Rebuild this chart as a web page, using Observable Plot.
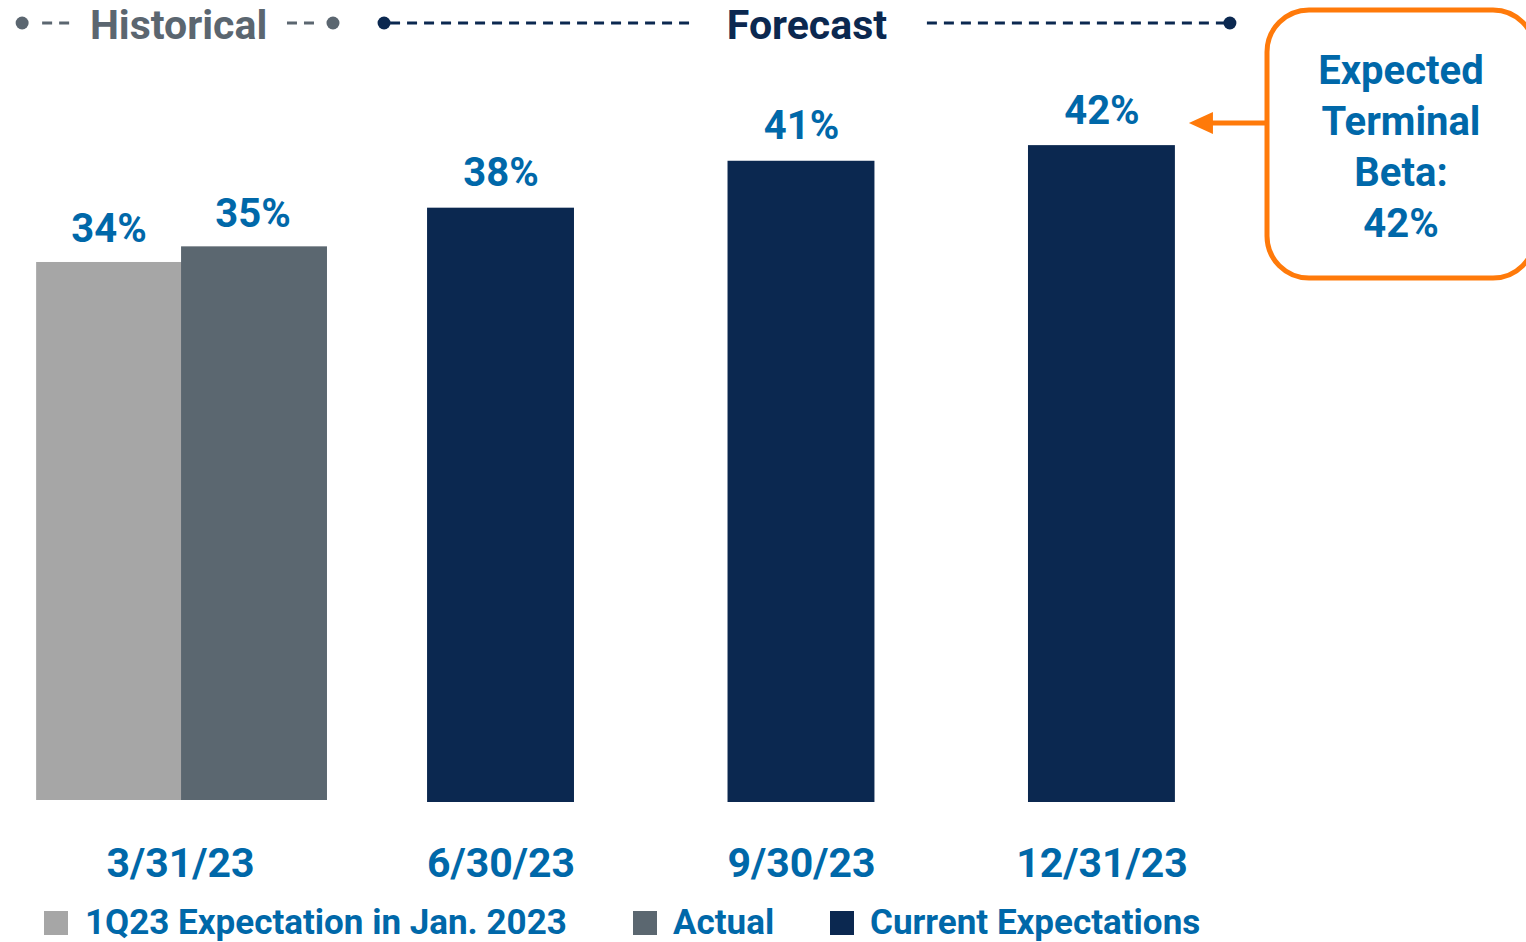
<!DOCTYPE html>
<html>
<head>
<meta charset="utf-8">
<script src="https://cdn.jsdelivr.net/npm/d3@7"></script>
<script src="https://cdn.jsdelivr.net/npm/@observablehq/plot@0.6"></script>
<style>
  html, body { margin: 0; padding: 0; background: #fff; }
  #chart { position: relative; width: 1526px; height: 942px; overflow: hidden; }
  svg { font-family: Roboto, "DejaVu Sans", sans-serif; }
</style>
</head>
<body>
<div id="chart"></div>
<script>
// ---- data ----
const dates = ["3/31/23", "6/30/23", "9/30/23", "12/31/23"];
const seriesNames = ["1Q23 Expectation in Jan. 2023", "Actual", "Current Expectations"];
const seriesColors = ["#a6a6a6", "#5b6770", "#0b2850"];
const expectationJan = [34.4, null, null, null];   // % , 1Q23 expectation (label 34%)
const actualValues   = [35.4, null, null, null];   // % (label 35%)
const currentValues  = [null, 38, 41, 42];         // %
const headerLabels = ["Historical", "Forecast"];
const calloutLines = ["Expected", "Terminal", "Beta:", "42%"];

const blue = "#0068a9";
const orange = "#ff7a0a";

function rows(values, series) {
  return dates.map((d, i) => ({date: d, series, value: values[i]})).filter(r => r.value != null);
}
const rowsExp = rows(expectationJan, seriesNames[0]);
const rowsAct = rows(actualValues, seriesNames[1]);
const rowsCur = rows(currentValues, seriesNames[2]);

const W = 1526, H = 942;
const xRange = [66.5, 1235];
const pIn = 0.511, pOut = 0.2;
const bw = d3.scaleBand(dates, xRange).paddingInner(pIn).paddingOuter(pOut).bandwidth();
const dxExp = -bw / 2 - 17;   // first historical bar sits left of the band
const dxAct = bw / 2 - 20;    // second historical bar sits right of it
const dxFirstTick = -20;

const fmt = v => `${Math.round(v)}%`;
const labelStyle = {fill: blue, fontSize: 40, fontWeight: 700, lineAnchor: "bottom", dy: -22};
const tickStyle = {fill: blue, fontSize: 41, fontWeight: 700, lineAnchor: "bottom", dy: 74};

const chart = Plot.plot({
  width: W,
  height: H,
  marginTop: 0, marginBottom: 0, marginLeft: 0, marginRight: 0,
  x: {type: "band", domain: dates, range: xRange, paddingInner: pIn, paddingOuter: pOut, round: false, axis: null},
  y: {domain: [0, 50], range: [802, 20], axis: null},
  style: {fontFamily: "Roboto, 'DejaVu Sans', sans-serif", background: "#fff"},
  marks: [
    Plot.barY(rowsExp, {x: "date", y: "value", fill: seriesColors[0], dx: dxExp, dy: -2, insetRight: 1}),
    Plot.barY(rowsAct, {x: "date", y: "value", fill: seriesColors[1], dx: dxAct, dy: -2, insetLeft: 1}),
    Plot.barY(rowsCur, {x: "date", y: "value", fill: seriesColors[2]}),
    Plot.text(rowsExp, {x: "date", y: "value", text: d => fmt(d.value), dx: dxExp - 1, ...labelStyle}),
    Plot.text(rowsAct, {x: "date", y: "value", text: d => fmt(d.value), dx: dxAct - 1, ...labelStyle}),
    Plot.text(rowsCur, {x: "date", y: "value", text: d => fmt(d.value), ...labelStyle}),
    Plot.text(dates.slice(0, 1), {x: d => d, y: () => 0, text: d => d, dx: dxFirstTick, ...tickStyle}),
    Plot.text(dates.slice(1), {x: d => d, y: () => 0, text: d => d, ...tickStyle})
  ]
});
document.getElementById("chart").appendChild(chart);

// ---- annotations (header, callout, legend) ----
const svg = d3.select(chart);
const xs = chart.scale("x");
const ys = chart.scale("y");
const bandLeft = d => xs.apply(d);
const bandRight = d => xs.apply(d) + xs.bandwidth;

// header
const hdrY = 23;
const grayHdr = "#5b6670", navyHdr = "#0b2850";
const g = svg.append("g");
function dashed(x1, x2, color) {
  g.append("line").attr("x1", x1).attr("x2", x2).attr("y1", hdrY).attr("y2", hdrY)
    .attr("stroke", color).attr("stroke-width", 3).attr("stroke-dasharray", "10 7");
}
function dot(cx, color) {
  g.append("circle").attr("cx", cx).attr("cy", hdrY).attr("r", 6.5).attr("fill", color);
}
const histL = bandLeft(dates[0]) + dxExp;        // left edge of first bar
const histR = bandLeft(dates[0]) + dxAct + bw;   // right edge of second bar
dot(histL - 14, grayHdr);
dashed(histL + 6, histL + 38, grayHdr);
g.append("text").attr("x", (histL + histR) / 2 - 3).attr("y", hdrY + 16).attr("text-anchor", "middle")
  .attr("font-size", 41).attr("font-weight", 700).attr("fill", grayHdr).text(headerLabels[0]);
dashed(histR - 40, histR - 8, grayHdr);
dot(histR + 6, grayHdr);

const fL = bandLeft(dates[1]), fR = bandRight(dates[3]);
dot(fL - 43, navyHdr);
dashed(fL - 37, fL + 262, navyHdr);
g.append("text").attr("x", (fL + fR) / 2 + 6).attr("y", hdrY + 16).attr("text-anchor", "middle")
  .attr("font-size", 41).attr("font-weight", 700).attr("fill", navyHdr).text(headerLabels[1]);
dashed(fR - 248, fR + 50, navyHdr);
dot(fR + 55, navyHdr);

// callout
const last = dates[dates.length - 1];
const arrowY = ys.apply(currentValues[3]) - 22;
const tipX = bandRight(last) + 14;
const boxX = 1267;
svg.append("rect").attr("x", boxX).attr("y", 10).attr("width", 268).attr("height", 268).attr("rx", 42)
  .attr("fill", "#fff").attr("stroke", orange).attr("stroke-width", 5);
svg.append("line").attr("x1", boxX).attr("x2", tipX + 18).attr("y1", arrowY).attr("y2", arrowY)
  .attr("stroke", orange).attr("stroke-width", 5);
svg.append("path").attr("d", `M${tipX},${arrowY} L${tipX + 24},${arrowY - 11} L${tipX + 24},${arrowY + 11} Z`)
  .attr("fill", orange);
calloutLines.forEach((t, i) => {
  svg.append("text").attr("x", 1401).attr("y", 84 + i * 51).attr("text-anchor", "middle")
    .attr("font-size", 40).attr("font-weight", 700).attr("fill", blue).text(t);
});

// legend
const legendX = [[44, 85], [633, 673], [830, 870]];
seriesNames.forEach((name, i) => {
  svg.append("rect").attr("x", legendX[i][0]).attr("y", 911).attr("width", 24).attr("height", 24)
    .attr("fill", seriesColors[i]);
  svg.append("text").attr("x", legendX[i][1]).attr("y", 934).attr("text-anchor", "start")
    .attr("font-size", 35).attr("font-weight", 700).attr("fill", blue).text(name);
});
</script>
</body>
</html>
